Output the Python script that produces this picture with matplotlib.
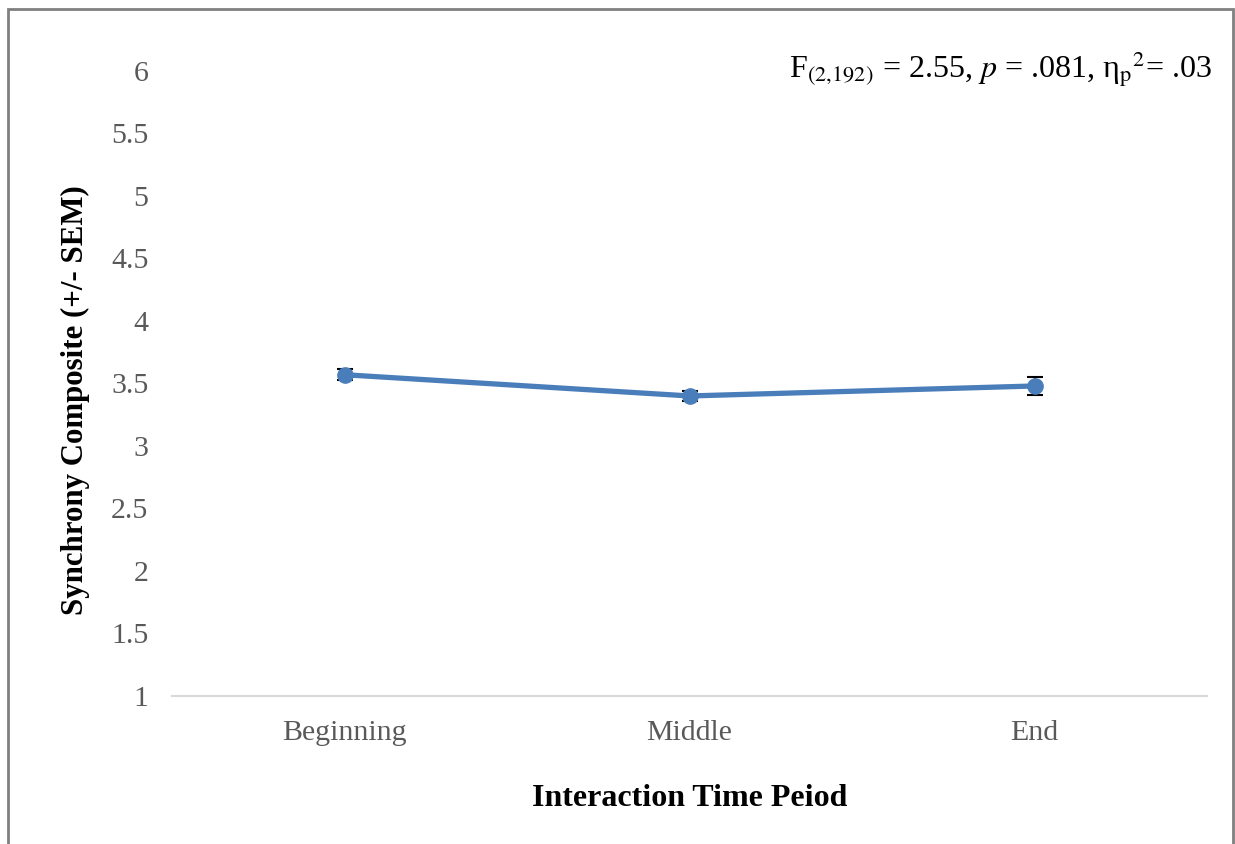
import numpy as np
import matplotlib.pyplot as plt
from matplotlib.patches import Rectangle

# data
periods = ["Beginning", "Middle", "End"]
means = [3.57, 3.40, 3.48]
sem = [0.045, 0.04, 0.07]

plt.rcParams['font.family'] = ['Liberation Serif', 'DejaVu Serif']
plt.rcParams['mathtext.fontset'] = 'stix'

fig = plt.figure(figsize=(12.35, 8.44), dpi=100)
ax = fig.add_axes([0.1393, 0.1754, 0.8381, 0.7405])

x = np.arange(len(periods))
ax.plot(x, means, color='#4a7ebb', lw=3.8, marker='o', ms=11, zorder=3)
ax.errorbar(x, means, yerr=sem, fmt='none', ecolor='black', elinewidth=1.2,
            capsize=6, capthick=1.5, zorder=2)

ax.set_xlim(-0.5, 2.5)
ax.set_ylim(1, 6)
ax.set_xticks(x)
ax.set_xticklabels(periods)
ax.set_yticks(np.arange(1, 6.01, 0.5))
ax.set_yticklabels(['1', '1.5', '2', '2.5', '3', '3.5', '4', '4.5', '5', '5.5', '6'])
ax.tick_params(length=0, labelsize=21.5, labelcolor='#595959')
ax.tick_params(axis='y', pad=17)
ax.tick_params(axis='x', pad=17)
for s in ['top', 'right', 'left']:
    ax.spines[s].set_visible(False)
ax.spines['bottom'].set_color('#d9d9d9')
ax.spines['bottom'].set_linewidth(1.5)

ax.set_xlabel('Interaction Time Peiod', fontsize=23, fontweight='bold', labelpad=28)
ax.set_ylabel('Synchrony Composite (+/- SEM)', fontsize=22.2, fontweight='bold')
ax.yaxis.set_label_coords(-0.079, 0.474)

fig.text(0.981, 0.918,
         r'F$_{\mathrm{(2{,}192)}}$ = 2.55, $\mathit{p}$ = .081, η$_{\mathrm{p}}$$^{2}$= .03',
         ha='right', va='center', fontsize=23)

# chart border
fig.patches.append(Rectangle((8 / 1235, -0.05), 1225 / 1235, 1 - 9 / 844 + 0.05,
                             transform=fig.transFigure, fill=False,
                             edgecolor='#808080', lw=2))

fig.savefig('out.png', dpi=100)
